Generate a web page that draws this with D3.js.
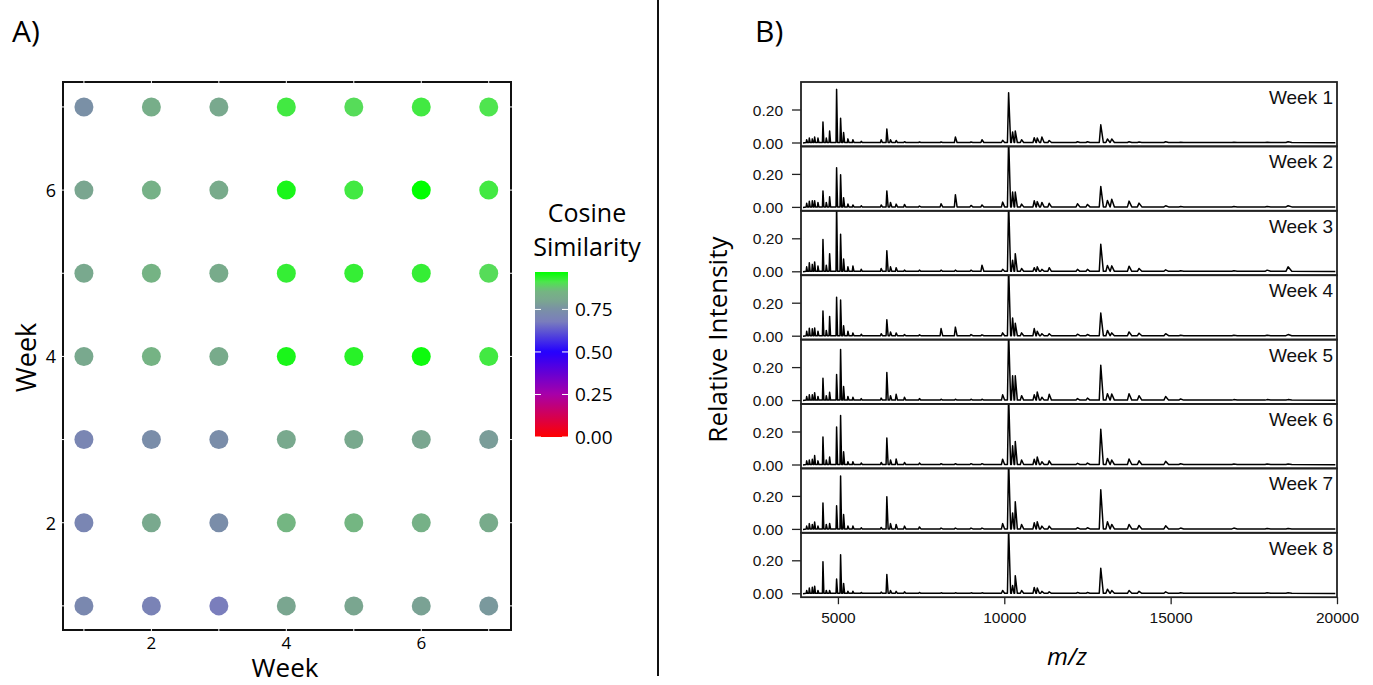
<!DOCTYPE html>
<html>
<head>
<meta charset="utf-8">
<script src="https://cdn.jsdelivr.net/npm/d3@7"></script>
<style>
  body { margin: 0; background: #fff; }
  svg { display: block; }
</style>
</head>
<body>
<script>
// ---- data ----
let weeks = [1, 2, 3, 4, 5, 6, 7]
// cosine similarity, rows = y week 1..7, columns = x week 1..7
let simRow1 = [0.72, 0.70, 0.68, 0.80, 0.80, 0.79, 0.77]
let simRow2 = [0.71, 0.81, 0.74, 0.86, 0.86, 0.84, 0.82]
let simRow3 = [0.71, 0.74, 0.74, 0.81, 0.81, 0.80, 0.78]
let simRow4 = [0.81, 0.85, 0.82, 0.95, 0.94, 0.96, 0.92]
let simRow5 = [0.81, 0.85, 0.82, 0.93, 0.93, 0.93, 0.90]
let simRow6 = [0.80, 0.84, 0.82, 0.95, 0.92, 0.97, 0.92]
let simRow7 = [0.75, 0.83, 0.81, 0.92, 0.90, 0.92, 0.91]
let simRows = [simRow1, simRow2, simRow3, simRow4, simRow5, simRow6, simRow7]
let axisTicksA = [2, 4, 6]
let colorbarTicks = [0, 0.25, 0.5, 0.75]

// spectra: peak m/z positions and relative intensity per week
let peakMz = [4060, 4140, 4230, 4300, 4400, 4550, 4650, 4750, 4960, 5080,
  5170, 5300, 5450, 5700, 6300, 6470, 6580, 6750, 7000, 7450,
  8100, 8530, 9000, 9330, 9950, 10130, 10250, 10330, 10520, 10900,
  10990, 11130, 11350, 12200, 12500, 12900, 13100, 13230, 13750, 14050,
  14850, 15300, 16900, 17900, 18530]
let week1 = [.02, .03, .025, .036, .03, .127, .03, .073, .325, .15,
  .063, .025, .02, .01, .02, .085, .02, .015, .008, .006,
  .006, .036, .006, .02, .016, .305, .067, .073, .02, .032,
  .03, .036, .015, .008, .008, .11, .024, .024, .008, .006,
  .008, .004, .004, .004, .008]
let week2 = [.025, .038, .04, .04, .03, .10, .03, .065, .24, .198,
  .058, .02, .015, .01, .015, .10, .03, .02, .018, .008,
  .022, .077, .012, .015, .032, .42, .093, .093, .02, .04,
  .035, .03, .025, .022, .018, .127, .042, .05, .038, .026,
  .01, .006, .006, .006, .01]
let week3 = [.03, .055, .045, .06, .035, .196, .04, .11, .42, .228,
  .077, .03, .035, .015, .02, .127, .03, .025, .01, .01,
  .01, .01, .01, .04, .015, .42, .07, .11, .02, .025,
  .03, .015, .025, .015, .015, .167, .038, .036, .034, .02,
  .012, .006, .006, .01, .03]
let week4 = [.03, .048, .045, .05, .03, .153, .035, .12, .236, .22,
  .063, .03, .02, .012, .015, .10, .025, .02, .01, .008,
  .046, .055, .01, .008, .02, .42, .11, .079, .02, .046,
  .03, .015, .015, .012, .01, .14, .035, .02, .026, .018,
  .015, .006, .006, .006, .01]
let week5 = [.025, .035, .035, .048, .025, .135, .03, .05, .158, .31,
  .085, .025, .02, .012, .015, .17, .03, .038, .02, .012,
  .008, .008, .008, .008, .035, .42, .15, .15, .03, .035,
  .052, .02, .038, .012, .015, .214, .042, .04, .042, .03,
  .025, .01, .006, .006, .006]
let week6 = [.025, .03, .035, .057, .025, .17, .03, .048, .23, .30,
  .08, .02, .02, .012, .015, .164, .03, .036, .015, .012,
  .008, .008, .008, .008, .035, .42, .117, .143, .03, .035,
  .048, .02, .025, .01, .012, .216, .04, .03, .036, .026,
  .022, .008, .006, .006, .006]
let week7 = [.02, .035, .03, .045, .02, .16, .03, .036, .143, .323,
  .09, .02, .02, .01, .012, .198, .035, .03, .02, .015,
  .008, .008, .008, .008, .035, .42, .10, .167, .03, .04,
  .046, .02, .02, .01, .01, .24, .046, .03, .03, .024,
  .022, .008, .008, .006, .006]
let week8 = [.02, .035, .04, .046, .02, .194, .02, .02, .089, .236,
  .063, .015, .015, .008, .01, .117, .02, .015, .012, .008,
  .006, .006, .006, .006, .02, .40, .05, .11, .02, .038,
  .035, .015, .012, .008, .008, .155, .028, .02, .02, .015,
  .012, .006, .006, .006, .006]
let spectra = [week1, week2, week3, week4, week5, week6, week7, week8]
let spectrumNames = ['Week 1', 'Week 2', 'Week 3', 'Week 4', 'Week 5', 'Week 6', 'Week 7', 'Week 8']
let mzTicks = [5000, 10000, 15000, 20000]
let intensityTicks = [0, 0.2]

// ---- layout ----
let width = 1373, height = 685
let svg = d3.select('body').append('svg')
  .attr('width', width)
  .attr('height', height)
let defs = svg.append('defs')

let fontA = "'Open Sans', 'DejaVu Sans', sans-serif"
let fontB = "'Liberation Sans', Arial, sans-serif"

// panel letters and divider
svg.append('text').attr('x', 12).attr('y', 42).text('A)')
  .attr('font-family', fontA).attr('font-size', 30)
svg.append('text').attr('x', 755).attr('y', 42).text('B)')
  .attr('font-family', fontA).attr('font-size', 30)
svg.append('line')
  .attr('x1', 658).attr('x2', 658).attr('y1', 0).attr('y2', 676)
  .attr('stroke', '#111').attr('stroke-width', 2)

// ---- panel A ----
let boxA = { left: 63, right: 511, top: 82, bottom: 630 }
let xA = d3.scaleLinear().domain([0.69, 7.33]).range([boxA.left, boxA.right])
let yA = d3.scaleLinear().domain([0.71, 7.3]).range([boxA.bottom, boxA.top])

let colorScale = d3.scaleLinear()
  .domain([0, 0.25, 0.5, 0.68, 0.75, 0.80, 0.86, 0.91, 0.97])
  .range(['#ff0000', '#a800a8', '#2400ff', '#7a7ebc', '#7a90a6', '#7aa690', '#74b682', '#4fe54f', '#00ff00'])
  .clamp(true)

let cells = []
simRows.forEach((row, i) => {
  row.forEach((v, j) => cells.push({ x: weeks[j], y: weeks[i], v: v }))
})

let gA = svg.append('g')
gA.selectAll('circle')
  .data(cells)
  .enter()
  .append('circle')
  .attr('cx', d => xA(d.x))
  .attr('cy', d => yA(d.y))
  .attr('r', 9.5)
  .attr('fill', d => colorScale(d.v))

gA.append('rect')
  .attr('x', boxA.left).attr('y', boxA.top)
  .attr('width', boxA.right - boxA.left).attr('height', boxA.bottom - boxA.top)
  .attr('fill', 'none').attr('stroke', '#111').attr('stroke-width', 2)

// white notches where the grid meets the frame
weeks.forEach(w => {
  gA.append('line').attr('x1', xA(w)).attr('x2', xA(w)).attr('y1', boxA.top - 2).attr('y2', boxA.top + 2)
    .attr('stroke', '#fff').attr('stroke-width', 1)
  gA.append('line').attr('x1', xA(w)).attr('x2', xA(w)).attr('y1', boxA.bottom - 2).attr('y2', boxA.bottom + 2)
    .attr('stroke', '#fff').attr('stroke-width', 1)
  gA.append('line').attr('y1', yA(w)).attr('y2', yA(w)).attr('x1', boxA.left - 2).attr('x2', boxA.left + 2)
    .attr('stroke', '#fff').attr('stroke-width', 1)
  gA.append('line').attr('y1', yA(w)).attr('y2', yA(w)).attr('x1', boxA.right - 2).attr('x2', boxA.right + 2)
    .attr('stroke', '#fff').attr('stroke-width', 1)
})

gA.selectAll('.xtick')
  .data(axisTicksA)
  .enter()
  .append('text')
  .attr('x', d => xA(d))
  .attr('y', 649)
  .attr('text-anchor', 'middle')
  .attr('font-family', fontA).attr('font-size', 17)
  .text(d => d)

gA.selectAll('.ytick')
  .data(axisTicksA)
  .enter()
  .append('text')
  .attr('x', 56)
  .attr('y', d => yA(d) + 7)
  .attr('text-anchor', 'end')
  .attr('font-family', fontA).attr('font-size', 18)
  .text(d => d)

gA.append('text')
  .attr('x', (boxA.left + boxA.right) / 2 - 2).attr('y', 677)
  .attr('text-anchor', 'middle')
  .attr('font-family', fontA).attr('font-size', 26)
  .text('Week')
gA.append('text')
  .attr('transform', 'translate(36,' + (yA(4) + 1) + ') rotate(-90)')
  .attr('text-anchor', 'middle')
  .attr('font-family', fontA).attr('font-size', 27)
  .text('Week')

// colour bar
let cbar = { x: 535, w: 33, top: 272, bottom: 437 }
let cbScale = d3.scaleLinear().domain([0, 0.97]).range([cbar.bottom, cbar.top])
let grad = defs.append('linearGradient')
  .attr('id', 'cosgrad')
  .attr('x1', 0).attr('x2', 0).attr('y1', 1).attr('y2', 0)
d3.range(0, 1.0001, 0.02).forEach(t => {
  grad.append('stop')
    .attr('offset', t)
    .attr('stop-color', colorScale(t * 0.97))
})
svg.append('rect')
  .attr('x', cbar.x).attr('y', cbar.top)
  .attr('width', cbar.w).attr('height', cbar.bottom - cbar.top)
  .attr('fill', 'url(#cosgrad)')

let cbTicks = svg.selectAll('.cbtick')
  .data(colorbarTicks)
  .enter()
  .append('g')
cbTicks.append('line')
  .attr('x1', cbar.x).attr('x2', cbar.x + 6)
  .attr('y1', d => cbScale(d)).attr('y2', d => cbScale(d))
  .attr('stroke', '#fff').attr('stroke-width', 1)
cbTicks.append('line')
  .attr('x1', cbar.x + cbar.w - 6).attr('x2', cbar.x + cbar.w)
  .attr('y1', d => cbScale(d)).attr('y2', d => cbScale(d))
  .attr('stroke', '#fff').attr('stroke-width', 1)
cbTicks.append('text')
  .attr('x', cbar.x + cbar.w + 7)
  .attr('y', d => cbScale(d) + 7)
  .attr('font-family', fontA).attr('font-size', 19)
  .text(d => d3.format('.2f')(d))

svg.append('text').attr('x', 587).attr('y', 222)
  .attr('text-anchor', 'middle').attr('font-family', fontA).attr('font-size', 25)
  .text('Cosine')
svg.append('text').attr('x', 587).attr('y', 256)
  .attr('text-anchor', 'middle').attr('font-family', fontA).attr('font-size', 25)
  .text('Similarity')

// ---- panel B ----
let boxB = { left: 801, right: 1337, top: 82 }
let panelH = 64.4
let xB = d3.scaleLinear().domain([3890, 20000]).range([boxB.left, boxB.right])
let yB = d3.scaleLinear().domain([0, 0.2]).range([61, 28])

defs.append('clipPath').attr('id', 'panelclip')
  .append('rect')
  .attr('x', boxB.left).attr('y', 0)
  .attr('width', boxB.right - boxB.left).attr('height', panelH)

let line = d3.line()
  .x(d => xB(d[0]))
  .y(d => yB(d[1]))

spectra.forEach((vals, i) => {
  let top = boxB.top + i * panelH
  let g = svg.append('g').attr('transform', 'translate(0,' + top + ')')

  // each peak: foot, apex, foot (tail a bit longer on the high-mass side)
  let pts = [[xB.invert(boxB.left + 2), 0]]
  peakMz.forEach((m, k) => {
    pts.push([m - m * 0.0035, 0.003])
    pts.push([m, vals[k]])
    pts.push([m + m * 0.006, 0.003])
  })
  pts.push([19950, 0.002])
  pts.sort((a, b) => a[0] - b[0])

  g.append('g').attr('clip-path', 'url(#panelclip)')
    .append('path')
    .attr('d', line(pts))
    .attr('fill', 'none')
    .attr('stroke', '#000')
    .attr('stroke-width', 1.5)
    .attr('stroke-linejoin', 'round')

  g.append('rect')
    .attr('x', boxB.left).attr('y', 0)
    .attr('width', boxB.right - boxB.left).attr('height', panelH)
    .attr('fill', 'none').attr('stroke', '#222').attr('stroke-width', 1.8)

  g.selectAll('.ytick')
    .data(intensityTicks)
    .enter()
    .append('line')
    .attr('x1', boxB.left - 9).attr('x2', boxB.left)
    .attr('y1', d => yB(d)).attr('y2', d => yB(d))
    .attr('stroke', '#222').attr('stroke-width', 1.3)
  g.selectAll('.ylab')
    .data(intensityTicks)
    .enter()
    .append('text')
    .attr('x', boxB.left - 18)
    .attr('y', d => yB(d) + 5.5)
    .attr('text-anchor', 'end')
    .attr('font-family', fontB).attr('font-size', 15.5)
    .attr('fill', '#111')
    .text(d => d3.format('.2f')(d))

  g.append('text')
    .attr('x', boxB.right - 4).attr('y', 22)
    .attr('text-anchor', 'end')
    .attr('font-family', fontB).attr('font-size', 19)
    .attr('fill', '#111')
    .text(spectrumNames[i])
})

let bottomB = boxB.top + spectra.length * panelH
let axisX = d3.axisBottom(xB).tickValues(mzTicks).tickFormat(d3.format('d'))
  .tickSize(7).tickSizeOuter(0)
let gx = svg.append('g')
  .attr('transform', 'translate(0,' + bottomB + ')')
  .call(axisX)
gx.select('.domain').remove()
gx.selectAll('line').attr('stroke', '#222').attr('stroke-width', 1.3)
gx.selectAll('text')
  .attr('font-family', fontB).attr('font-size', 15.5).attr('fill', '#111')
  .attr('dy', '1.05em')

svg.append('text')
  .attr('transform', 'translate(727,' + (boxB.top + bottomB) / 2 + ') rotate(-90)')
  .attr('text-anchor', 'middle')
  .attr('font-family', fontA).attr('font-size', 26)
  .text('Relative Intensity')
svg.append('text')
  .attr('x', 1067).attr('y', 665)
  .attr('text-anchor', 'middle')
  .attr('font-family', fontA).attr('font-size', 24)
  .attr('font-style', 'italic')
  .text('m/z')
</script>
</body>
</html>
